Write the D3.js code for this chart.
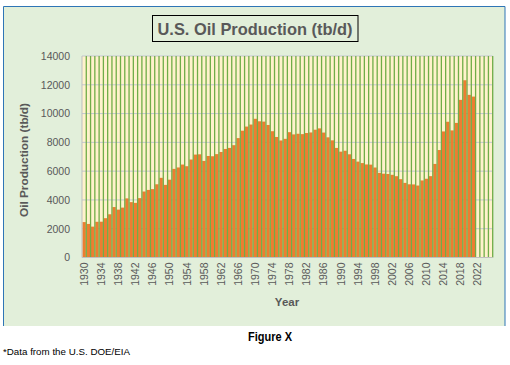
<!DOCTYPE html>
<html><head><meta charset="utf-8">
<script src="https://cdn.jsdelivr.net/npm/d3@7/dist/d3.min.js"></script>
<style>body{margin:0;background:#fff}svg{display:block}</style>
</head><body>
<svg id="chart" width="510" height="365"></svg>
<script>
// ---- data ----
const years = d3.range(1930, 2026); // category axis 1930..2025
const production = [
  2460,2332,2145,2481,2488,2731,3003,3505,3327,3466,
  4107,3847,3796,4125,4584,4695,4751,5088,5535,5046,
  5407,6158,6256,6458,6342,6807,7151,7170,6710,7054,
  7035,7183,7332,7542,7614,7804,8295,8810,9096,9238,
  9637,9463,9441,9208,8774,8375,8132,8245,8707,8552,
  8597,8572,8649,8688,8879,8971,8680,8349,8140,7613,
  7355,7417,7171,6847,6662,6560,6465,6452,6252,5881,
  5822,5801,5744,5649,5441,5184,5086,5077,5000,5353,
  5471,5652,6502,7467,8759,9431,8831,9352,10953,12315,
  11300,11180
];
const yTicks = [0,2000,4000,6000,8000,10000,12000,14000];
const xTickLabels = [1930,1934,1938,1942,1946,1950,1954,1958,1962,1966,1970,1974,1978,1982,1986,1990,1994,1998,2002,2006,2010,2014,2018,2022];

const title = "U.S. Oil Production (tb/d)";
const yTitle = "Oil Production (tb/d)";
const xTitle = "Year";
const caption = "Figure X";
const note = "*Data from the U.S. DOE/EIA";

// ---- layout ----
const svg = d3.select("#chart");
const plot = {left: 82, right: 492.7, top: 56, bottom: 257.5};
const txtGray = "#595959";

// chart area
svg.append("rect").attr("x",3.5).attr("y",6.5).attr("width",501.5).attr("height",319.5)
  .attr("fill","#E2EFDA");
svg.append("path").attr("d","M3.5,326V6.5H505V326").attr("fill","none")
  .attr("stroke","#2E75B6").attr("stroke-width",1);

const x = d3.scaleBand().domain(years).range([plot.left, plot.right])
  .paddingInner(0.2).paddingOuter(0.1);
const y = d3.scaleLinear().domain([0,14000]).range([plot.bottom, plot.top]);

// plot area background
svg.append("rect").attr("x",plot.left).attr("y",plot.top)
  .attr("width",plot.right-plot.left).attr("height",plot.bottom-plot.top)
  .attr("fill","#FFF2CC");

// horizontal gridlines
svg.append("g").selectAll("line").data(yTicks.slice(1)).join("line")
  .attr("x1",plot.left).attr("x2",plot.right)
  .attr("y1",d=>y(d)).attr("y2",d=>y(d))
  .attr("stroke","#C3C7D0").attr("stroke-width",1);

// bars
const data = production.map((v,i)=>({year: years[i], value: v}));
svg.append("g").selectAll("rect").data(data).join("rect")
  .attr("x",d=>x(d.year)).attr("width",x.bandwidth())
  .attr("y",d=>y(d.value)).attr("height",d=>y(0)-y(d.value))
  .attr("fill","#ED7D31");

// vertical green gridlines at category boundaries
const bounds = years.map((yr,i)=> plot.left + (i+1)*(plot.right-plot.left)/years.length);
svg.append("g").selectAll("line").data(bounds).join("line")
  .attr("x1",d=>d).attr("x2",d=>d).attr("y1",plot.top).attr("y2",plot.bottom)
  .attr("stroke","#70AD47").attr("stroke-width",1.3);

// axes lines
svg.append("line").attr("x1",plot.left).attr("x2",plot.left).attr("y1",plot.top).attr("y2",plot.bottom)
  .attr("stroke","#BFBFBF");
svg.append("line").attr("x1",plot.left).attr("x2",plot.right).attr("y1",plot.bottom).attr("y2",plot.bottom)
  .attr("stroke","#BFBFBF");

// y axis
const yAxis = d3.axisLeft(y).tickValues(yTicks).tickSize(0).tickPadding(12).tickFormat(d3.format("d"));
const gy = svg.append("g").attr("transform",`translate(${plot.left},0)`).call(yAxis);
gy.select(".domain").remove();
gy.selectAll("text").attr("fill",txtGray).style("font-family","Liberation Sans, Arial, sans-serif")
  .style("font-size","10.5px");

// x axis
const xAxis = d3.axisBottom(x).tickValues(xTickLabels).tickSize(0).tickPadding(0);
const gx = svg.append("g").attr("transform",`translate(0,${plot.bottom})`).call(xAxis);
gx.select(".domain").remove();
gx.selectAll("text").attr("fill",txtGray).style("font-family","Liberation Sans, Arial, sans-serif")
  .style("font-size","10.5px")
  .attr("transform","rotate(-90)").attr("text-anchor","end")
  .attr("x",-5).attr("y",0).attr("dy","0.35em");

// title
svg.append("rect").attr("x",152.5).attr("y",15.5).attr("width",205.5).attr("height",26)
  .attr("fill","none").attr("stroke","#000").attr("stroke-width",1);
svg.append("text").attr("x",255).attr("y",35).attr("text-anchor","middle")
  .attr("fill",txtGray).style("font-family","Liberation Sans, Arial, sans-serif")
  .style("font-weight","bold").style("font-size","16.5px")
  .attr("textLength",195).attr("lengthAdjust","spacingAndGlyphs").text(title);

// y title
svg.append("text").attr("transform","translate(28,160) rotate(-90)").attr("text-anchor","middle")
  .attr("fill",txtGray).style("font-family","Liberation Sans, Arial, sans-serif")
  .style("font-weight","bold").style("font-size","11.5px")
  .attr("textLength",114).attr("lengthAdjust","spacingAndGlyphs").text(yTitle);

// x title
svg.append("text").attr("x",287).attr("y",306).attr("text-anchor","middle")
  .attr("fill",txtGray).style("font-family","Liberation Sans, Arial, sans-serif")
  .style("font-weight","bold").style("font-size","11.5px").text(xTitle);

// caption
svg.append("text").attr("x",270).attr("y",341).attr("text-anchor","middle")
  .attr("fill","#000").style("font-family","Liberation Sans, Arial, sans-serif")
  .style("font-weight","bold").style("font-size","12.5px")
  .attr("textLength",44).attr("lengthAdjust","spacingAndGlyphs").text(caption);

// note
svg.append("text").attr("x",3).attr("y",355)
  .attr("fill","#000").style("font-family","Liberation Sans, Arial, sans-serif")
  .style("font-size","8.5px").attr("textLength",127).attr("lengthAdjust","spacingAndGlyphs").text(note);
</script>
</body></html>
